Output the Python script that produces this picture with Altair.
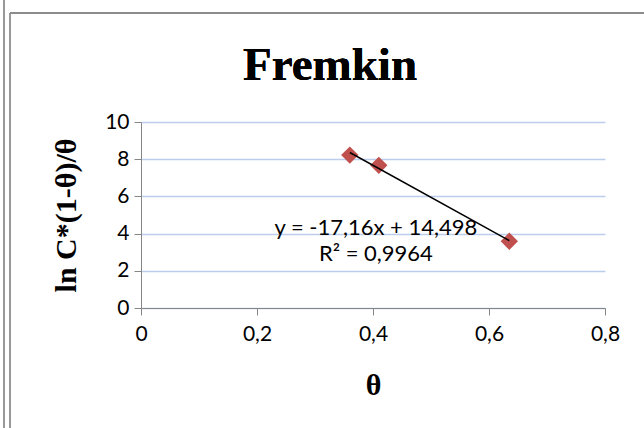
import altair as alt
import pandas as pd

theta = [0.36, 0.41, 0.635]
ln_c = [8.22, 7.67, 3.59]
eq_lines = ["y = -17,16x + 14,498", "R² = 0,9964"]
eq_x = [0.405, 0.405]
eq_y = [4.28, 2.92]
chart_title = "Fremkin"

df = pd.DataFrame({"theta": theta, "lnc": ln_c})
eq_df = pd.DataFrame({"label": eq_lines, "ex": eq_x, "ey": eq_y})

SANS = "Lato"
SERIF = "Liberation Serif"
AX = "#868686"

xs = alt.Scale(domain=[0, 0.8])
ys = alt.Scale(domain=[0, 10])

x_axis = alt.Axis(values=[0, 0.2, 0.4, 0.6, 0.8], format=".1~f", labelExpr="replace(datum.label, '.', ',')",
                  grid=False, domainColor=AX, tickColor=AX, tickSize=7, labelPadding=8,
                  labelFont=SANS, labelFontSize=21, labelColor="black", labelOverlap=False, labelFlush=False,
                  title="θ", titleFont=SERIF, titleFontSize=30, titleFontWeight="bold",
                  titleX=232, titleY=77, titleBaseline="middle", titleColor="black")
y_axis = alt.Axis(values=[0, 2, 4, 6, 8, 10], grid=True, gridColor="#bccdee", gridWidth=1.4,
                  domainColor=AX, tickColor=AX, tickSize=7, labelPadding=5,
                  labelFont=SANS, labelFontSize=21, labelColor="black", labelOverlap=False, labelFlush=False,
                  title="ln C*(1-θ)/θ", titleFont=SERIF, titleFontSize=30, titleFontWeight="bold",
                  titleX=-75, titleY=93, titleAngle=270, titleBaseline="middle", titleAlign="center",
                  titleColor="black")

base = alt.Chart(df)

points = base.mark_point(shape="diamond", filled=True, color="#C0504D", size=300, opacity=1).encode(
    x=alt.X("theta:Q", scale=xs, axis=x_axis),
    y=alt.Y("lnc:Q", scale=ys, axis=y_axis),
)

trend = base.transform_regression("theta", "lnc").mark_line(color="black", strokeWidth=1.5).encode(
    x=alt.X("theta:Q", scale=xs, axis=x_axis),
    y=alt.Y("lnc:Q", scale=ys, axis=y_axis),
)

eq = alt.Chart(eq_df).mark_text(font=SANS, fontSize=22, color="black", align="center", baseline="middle").encode(
    x=alt.X("ex:Q", scale=xs, axis=x_axis),
    y=alt.Y("ey:Q", scale=ys, axis=y_axis),
    text="label:N",
)

title_mark = alt.Chart(df).mark_text(font=SERIF, fontSize=47, fontWeight="bold", color="black",
                                     align="center", baseline="alphabetic").encode(
    x=alt.value(189), y=alt.value(-42), text=alt.value(chart_title))

# frame lines (decoration)
b1 = alt.Chart(df).mark_rule(color="#999999", strokeWidth=2).encode(
    x=alt.value(-137), y=alt.value(-122), y2=alt.value(306))
b2 = alt.Chart(df).mark_rule(color="#999999", strokeWidth=2).encode(
    x=alt.value(-131), y=alt.value(-109), y2=alt.value(306))
b3 = alt.Chart(df).mark_rule(color="#8c8c8c", strokeWidth=2).encode(
    x=alt.value(-131), x2=alt.value(503), y=alt.value(-109))

chart = alt.layer(points, trend, eq, b1, b2, b3, title_mark).properties(
    width=464, height=186,
    autosize=alt.AutoSizeParams(type="none"),
    padding={"left": 141, "top": 122, "right": 39, "bottom": 120},
    background="white",
).configure_view(stroke=None)

chart.save("out.html", embed_options={"renderer": "svg", "actions": False})
